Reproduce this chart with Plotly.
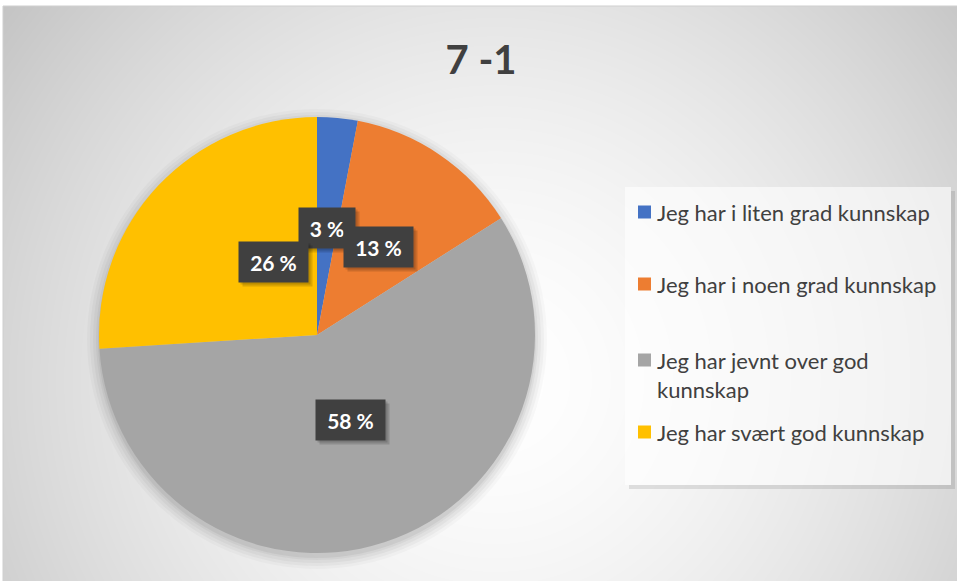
import base64
import math
import struct
import zlib

import numpy as np
import plotly.graph_objects as go

# ---- data -------------------------------------------------------------
title_text = "7 -1"
categories = [
    "Jeg har i liten grad kunnskap",
    "Jeg har i noen grad kunnskap",
    "Jeg har jevnt over god<br>kunnskap",
    "Jeg har svært god kunnskap",
]
shares = [3, 13, 58, 26]
colors = ["#4472C4", "#ED7D31", "#A5A5A5", "#FFC000"]

# ---- page geometry (pixels) ------------------------------------------
W, H = 957, 581
area_x0, area_y0, area_x1, area_y1 = 3, 6, 957, 581
pie_cx, pie_cy, pie_r = 317, 335, 218


def px_x(x):
    return x / W


def px_y(y):
    return 1 - y / H


# ---- radial background rendered to an inline PNG ---------------------
def radial_png(w, h, cx, cy, dmax, light=255, dark=196):
    yy, xx = np.mgrid[0:h, 0:w].astype(float)
    d = np.sqrt((xx - cx) ** 2 + (yy - cy) ** 2) / dmax
    v = light - (light - dark) * np.clip(d, 0, 1.2) ** 1.6
    v = np.clip(v, 0, 255).astype(np.uint8)
    img = np.dstack([v, v, v])
    raw = b"".join(b"\x00" + img[r].tobytes() for r in range(h))

    def chunk(tag, data):
        return (struct.pack(">I", len(data)) + tag + data
                + struct.pack(">I", zlib.crc32(tag + data) & 0xFFFFFFFF))

    png = (b"\x89PNG\r\n\x1a\n"
           + chunk(b"IHDR", struct.pack(">IIBBBBB", w, h, 8, 2, 0, 0, 0))
           + chunk(b"IDAT", zlib.compress(raw, 9))
           + chunk(b"IEND", b""))
    return "data:image/png;base64," + base64.b64encode(png).decode()


aw, ah = area_x1 - area_x0, area_y1 - area_y0
bg_src = radial_png(aw, ah, 495 - area_x0, 380 - area_y0, 620)

# ---- pie ----------------------------------------------------------------
fig = go.Figure(
    go.Pie(
        labels=[c.replace("<br>", " ") for c in categories],
        values=shares,
        sort=False,
        direction="clockwise",
        rotation=0,
        marker=dict(colors=colors, line=dict(width=0)),
        textinfo="none",
        hoverinfo="label+percent",
        showlegend=False,
        domain=dict(
            x=[px_x(pie_cx - pie_r), px_x(pie_cx + pie_r)],
            y=[px_y(pie_cy + pie_r), px_y(pie_cy - pie_r)],
        ),
    )
)

shapes = []
# soft shadow under the pie
for grow, alpha in [(12, 0.025), (9, 0.03), (6, 0.035), (3, 0.04), (1, 0.05)]:
    r = pie_r + grow
    shapes.append(dict(
        type="circle", xref="paper", yref="paper", layer="below",
        x0=px_x(pie_cx - r), x1=px_x(pie_cx + r),
        y0=px_y(pie_cy + 4 + r), y1=px_y(pie_cy + 4 - r),
        fillcolor=f"rgba(0,0,0,{alpha})", line=dict(width=0),
    ))

# legend panel with a thin drop shadow on its right and bottom edges
leg_x0, leg_y0, leg_x1, leg_y1 = 625, 187, 951, 485
for x0, y0, x1, y1 in [(leg_x1, leg_y0 + 4, leg_x1 + 4, leg_y1 + 4),
                       (leg_x0 + 4, leg_y1, leg_x1, leg_y1 + 4)]:
    shapes.append(dict(
        type="rect", xref="paper", yref="paper", layer="below",
        x0=px_x(x0), x1=px_x(x1), y0=px_y(y1), y1=px_y(y0),
        fillcolor="rgba(0,0,0,0.10)", line=dict(width=0),
    ))
shapes.append(dict(
    type="rect", xref="paper", yref="paper", layer="below",
    x0=px_x(leg_x0), x1=px_x(leg_x1), y0=px_y(leg_y1), y1=px_y(leg_y0),
    fillcolor="rgba(255,255,255,0.6)", line=dict(width=0),
))
# chart area frame
shapes.append(dict(
    type="rect", xref="paper", yref="paper", layer="above",
    x0=px_x(area_x0), x1=px_x(area_x1 + 2), y0=px_y(area_y1 + 2), y1=px_y(area_y0),
    line=dict(color="#cfcfcf", width=1),
))

annotations = []
# legend entries
legend_rows = [212, 284, 360, 432]
for cat, col, yrow in zip(categories, colors, legend_rows):
    shapes.append(dict(
        type="rect", xref="paper", yref="paper", layer="above",
        x0=px_x(638), x1=px_x(651), y0=px_y(yrow + 6.5), y1=px_y(yrow - 6.5),
        fillcolor=col, line=dict(width=0),
    ))
    annotations.append(dict(
        xref="paper", yref="paper", x=px_x(655), y=px_y(yrow - 15),
        xanchor="left", yanchor="top", align="left", showarrow=False,
        text=cat, font=dict(family="Lato", size=22, color="#404040"),
    ))

# percentage labels placed half way out along each slice's mid angle
total = sum(shares)
cum = 0
for v in shares:
    theta = 2 * math.pi * (cum + v / 2) / total
    cum += v
    lx = pie_cx + 0.5 * pie_r * math.sin(theta)
    ly = pie_cy - 0.5 * pie_r * math.cos(theta) + 2
    label = f"{round(100 * v / total)} %"
    box_w = 13 * len(label) + 1
    # soft drop shadow behind the label box (empty boxes)
    for dx, dy in [(4, 4), (2, 2)]:
        annotations.append(dict(
            xref="paper", yref="paper", x=px_x(lx), y=px_y(ly),
            xshift=dx, yshift=-dy, showarrow=False,
            text=" ", width=box_w, height=24, borderpad=8,
            bgcolor="rgba(0,0,0,0.14)", font=dict(family="Lato", size=21),
        ))
    annotations.append(dict(
        xref="paper", yref="paper", x=px_x(lx), y=px_y(ly),
        showarrow=False,
        text=f"<b>{label}</b>", width=box_w, height=24, borderpad=8,
        bgcolor="#404040", font=dict(family="Lato", size=21, color="white"),
    ))

fig.update_layout(
    width=W, height=H,
    margin=dict(l=0, r=0, t=0, b=0),
    paper_bgcolor="white",
    title=dict(
        text=f"<b>{title_text}</b>", x=px_x(481), xanchor="center",
        y=px_y(60), yanchor="middle",
        font=dict(family="Lato", size=40, color="#404040"),
    ),
    images=[dict(
        source=bg_src, xref="paper", yref="paper",
        x=px_x(area_x0), y=px_y(area_y0), sizex=aw / W, sizey=ah / H,
        xanchor="left", yanchor="top", sizing="stretch", layer="below",
    )],
    shapes=shapes,
    annotations=annotations,
)

fig.write_html("out.html")
